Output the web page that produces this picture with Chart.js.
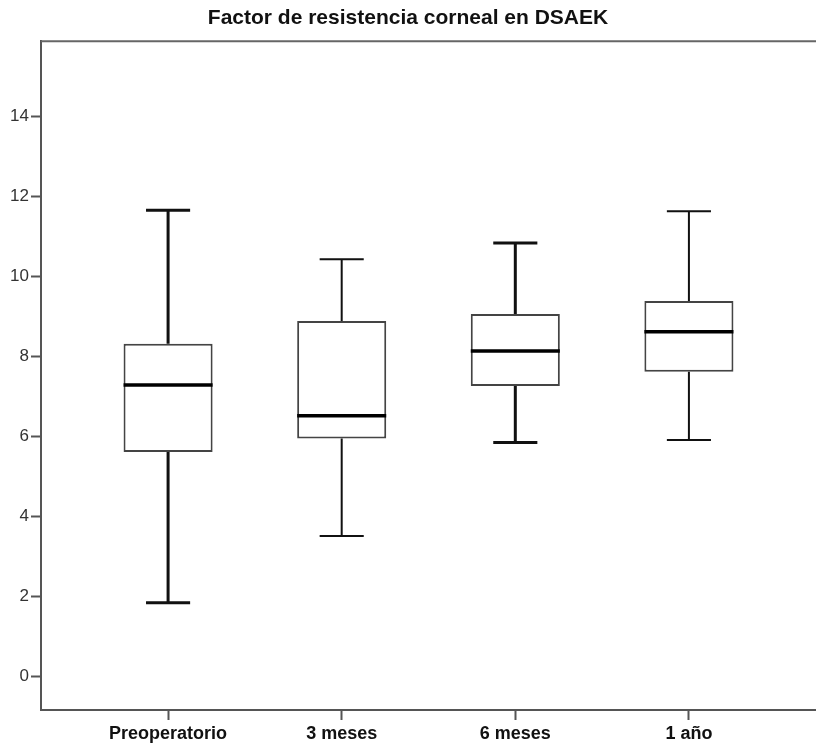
<!DOCTYPE html>
<html lang="es">
<head>
<meta charset="UTF-8">
<title>Factor de resistencia corneal en DSAEK</title>
<script src="https://cdn.jsdelivr.net/npm/chart.js@4.4.0/dist/chart.umd.min.js"></script>
<style>
  html, body { margin: 0; padding: 0; background: #fff; }
  #wrap { width: 816px; height: 749px; }
</style>
</head>
<body>
<div id="wrap"><canvas id="boxChart"></canvas></div>
<script>
// values
const categories = ['Preoperatorio', '3 meses', '6 meses', '1 año'];
const whiskerLow = [1.83, 3.50, 5.84, 5.90];
const q1 = [5.60, 5.94, 7.25, 7.61];
const median = [7.28, 6.51, 8.13, 8.61];
const q3 = [8.31, 8.88, 9.05, 9.38];
const whiskerHigh = [11.65, 10.42, 10.83, 11.62];
const yTicks = [0, 2, 4, 6, 8, 10, 12, 14];

// whisker line width per box (the image uses slightly different weights)
const whiskerWidth = [3, 2, 3, 2];

const boxplotExtras = {
    id: 'boxplotExtras',
    afterDatasetsDraw(chart) {
        const ctx = chart.ctx;
        const xs = chart.scales.x;
        const ys = chart.scales.y;
        const area = chart.chartArea;
        ctx.save();
        // top frame line
        ctx.strokeStyle = '#666';
        ctx.lineWidth = 2;
        ctx.beginPath();
        ctx.moveTo(area.left, area.top);
        ctx.lineTo(area.right, area.top);
        ctx.stroke();

        categories.forEach((c, i) => {
            const x = xs.getPixelForValue(i);
            const capL = xs.getPixelForValue(i - 0.127);
            const capR = xs.getPixelForValue(i + 0.127);
            const boxL = xs.getPixelForValue(i - 0.2565);
            const boxR = xs.getPixelForValue(i + 0.2565);

            ctx.strokeStyle = '#111';
            ctx.lineWidth = whiskerWidth[i];
            ctx.beginPath();
            // upper whisker
            ctx.moveTo(x, ys.getPixelForValue(q3[i]));
            ctx.lineTo(x, ys.getPixelForValue(whiskerHigh[i]));
            ctx.moveTo(capL, ys.getPixelForValue(whiskerHigh[i]));
            ctx.lineTo(capR, ys.getPixelForValue(whiskerHigh[i]));
            // lower whisker
            ctx.moveTo(x, ys.getPixelForValue(q1[i]));
            ctx.lineTo(x, ys.getPixelForValue(whiskerLow[i]));
            ctx.moveTo(capL, ys.getPixelForValue(whiskerLow[i]));
            ctx.lineTo(capR, ys.getPixelForValue(whiskerLow[i]));
            ctx.stroke();

            // median
            ctx.strokeStyle = '#000';
            ctx.lineWidth = 3.5;
            ctx.beginPath();
            ctx.moveTo(boxL, ys.getPixelForValue(median[i]));
            ctx.lineTo(boxR, ys.getPixelForValue(median[i]));
            ctx.stroke();
        });
        ctx.restore();
    }
};

const ctx = document.getElementById('boxChart').getContext('2d');
const chart = new Chart(ctx, {
    type: 'bar',
    data: {
        datasets: [{
            data: categories.map((c, i) => ({ x: i, y: [q1[i], q3[i]] })),
            backgroundColor: '#ffffff',
            borderColor: '#444',
            borderWidth: 2,
            borderSkipped: false,
            barPercentage: 0.513,
            categoryPercentage: 1
        }]
    },
    options: {
        responsive: true,
        maintainAspectRatio: false,
        animation: false,
        layout: { padding: { left: 0, right: 0, top: 0, bottom: 0 } },
        plugins: {
            legend: { display: false },
            tooltip: { enabled: false },
            title: {
                display: true,
                text: 'Factor de resistencia corneal en DSAEK',
                color: '#111',
                font: { family: '"Liberation Sans", Arial, sans-serif', size: 21, weight: 'bold', lineHeight: 1.2 },
                padding: { top: 6, bottom: 10 }
            }
        },
        scales: {
            x: {
                type: 'linear',
                offset: false,
                min: -0.732,
                max: 3.732,
                afterBuildTicks: axis => { axis.ticks = categories.map((c, i) => ({ value: i })); },
                afterFit: axis => { axis.height = 39; },
                grid: { display: true, offset: false, drawOnChartArea: false, drawTicks: true, tickLength: 10, tickColor: '#555', tickWidth: 2 },
                border: { display: true, color: '#555', width: 2 },
                ticks: {
                    padding: 3,
                    color: '#111',
                    maxRotation: 0,
                    font: { family: '"Liberation Sans", Arial, sans-serif', size: 18, weight: 'bold' },
                    callback: v => categories[v]
                }
            },
            y: {
                min: -0.85,
                max: 15.875,
                afterBuildTicks: axis => { axis.ticks = yTicks.map(v => ({ value: v })); },
                afterFit: axis => { axis.width = 41; },
                grid: { display: true, drawOnChartArea: false, drawTicks: true, tickLength: 10, tickColor: '#555', tickWidth: 2 },
                border: { display: true, color: '#555', width: 2 },
                ticks: {
                    padding: 2,
                    color: '#333',
                    font: { family: '"Liberation Sans", Arial, sans-serif', size: 17 }
                }
            }
        }
    },
    plugins: [boxplotExtras]
});
</script>
</body>
</html>
